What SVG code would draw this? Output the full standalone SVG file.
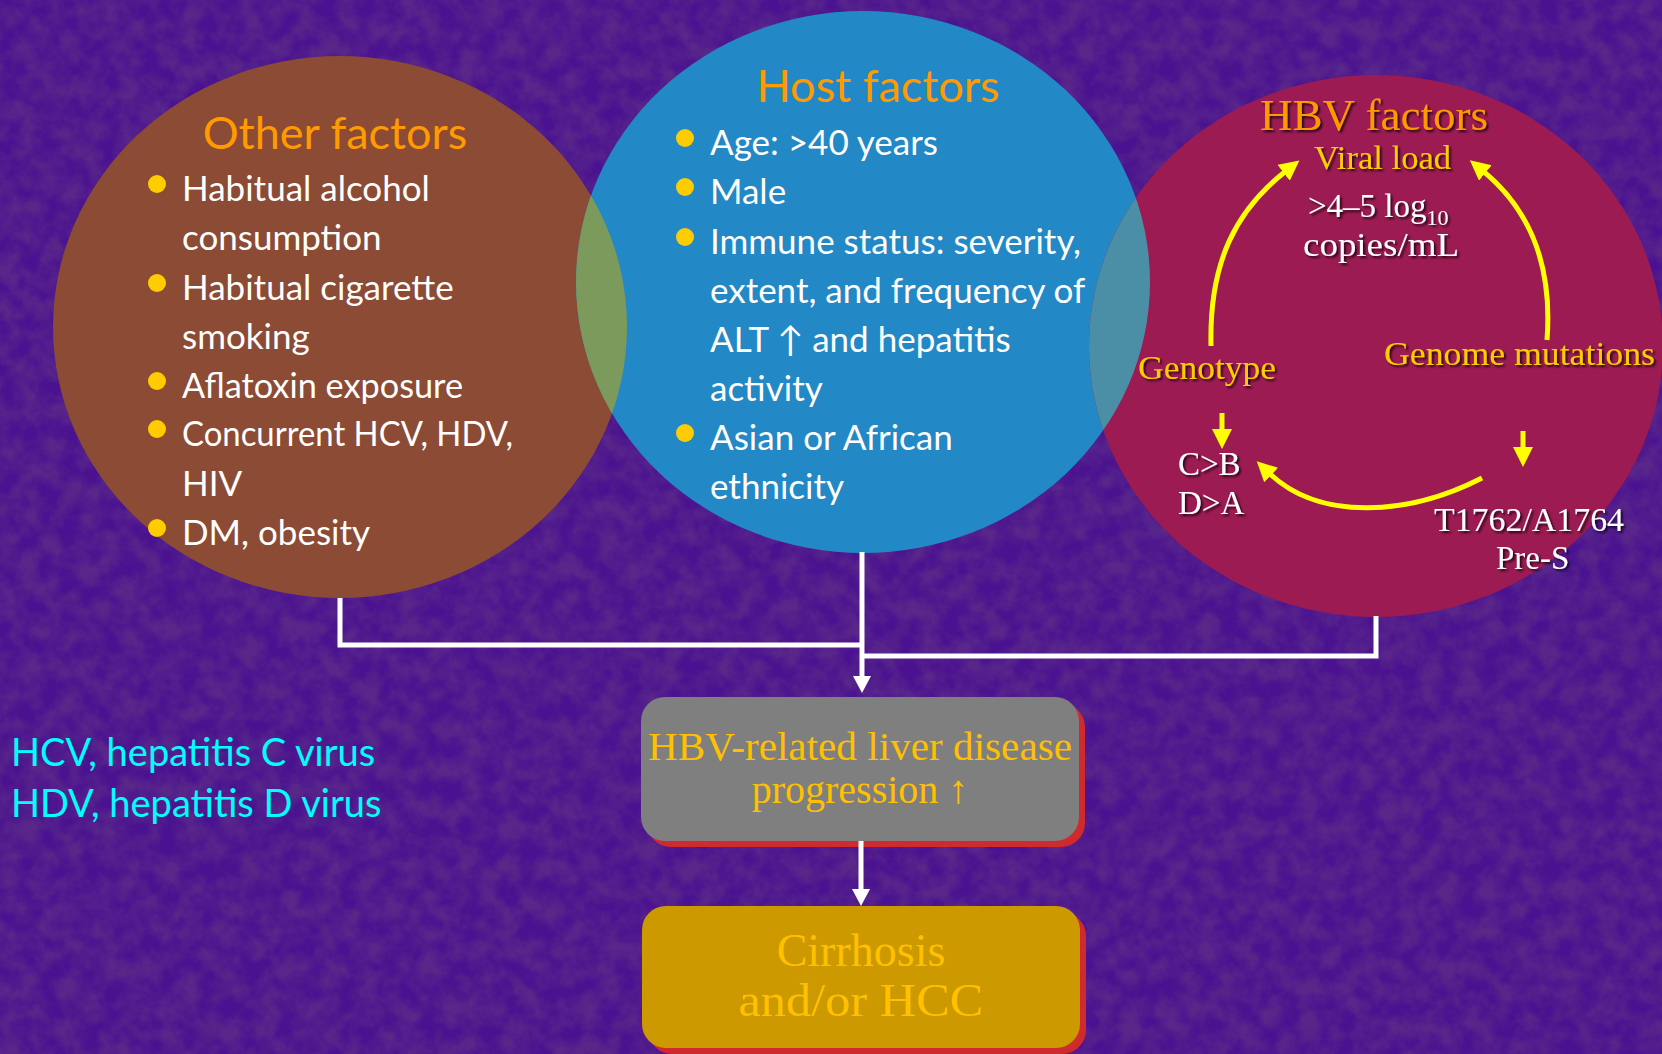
<svg xmlns="http://www.w3.org/2000/svg" width="1662" height="1054" viewBox="0 0 1662 1054">
<defs>
<style>
.sans{font-family:Lato,"Liberation Sans",sans-serif;}
.serif{font-family:"Liberation Serif","DejaVu Serif",serif;}
.title{font-size:45px;fill:#FF9A00;text-anchor:middle;}
.item{font-size:35px;fill:#FFFFFF;}
.dot{fill:#FFCC00;}
.legend{font-size:38px;fill:#00FFFF;}
.hbvt{fill:#FFCC00;font-size:33px;}
.hbvw{fill:#FFFFFF;font-size:33px;}
.conn{fill:none;stroke:#FFFFFF;stroke-width:5;}
.yarr{fill:none;stroke:#FFFF00;stroke-width:5;}
.boxtext{fill:#FFC000;text-anchor:middle;}
</style>
<filter id="tex" x="0" y="0" width="100%" height="100%">
<feTurbulence type="fractalNoise" baseFrequency="0.05" numOctaves="4" seed="7"/>
<feColorMatrix type="matrix" values="0 0 0 0 0.10  0 0 0 0 0.02  0 0 0 0 0.25  -2.2 0 0 0 1.55"/>
</filter>
<filter id="sh" x="-10%" y="-30%" width="130%" height="170%">
<feDropShadow dx="2" dy="2" stdDeviation="0.8" flood-color="#000000" flood-opacity="0.75"/>
</filter>
<clipPath id="clipHost"><ellipse cx="863" cy="282" rx="287" ry="271"/></clipPath>
<marker id="wa" markerUnits="userSpaceOnUse" markerWidth="20" markerHeight="20" refX="2" refY="9" orient="auto">
<path d="M0,0 L17,9 L0,18 z" fill="#FFFFFF"/>
</marker>
<marker id="ya" markerUnits="userSpaceOnUse" markerWidth="22" markerHeight="22" refX="3" refY="10" orient="auto">
<path d="M0,0 L20,10 L0,20 z" fill="#FFFF00"/>
</marker>
</defs>

<rect x="0" y="0" width="1662" height="1054" fill="#4A1290"/>
<rect x="0" y="0" width="1662" height="1054" filter="url(#tex)"/>

<g id="other-factors">
<ellipse cx="340" cy="327" rx="287" ry="271" fill="#8B4B35"/>
<text class="sans title" x="335" y="149">Other factors</text>
<circle class="dot" cx="157" cy="184" r="9"/>
<circle class="dot" cx="157" cy="283" r="9"/>
<circle class="dot" cx="157" cy="381" r="9"/>
<circle class="dot" cx="157" cy="429" r="9"/>
<circle class="dot" cx="157" cy="528" r="9"/>
<text class="sans item" x="182" y="201">Habitual alcohol</text>
<text class="sans item" x="182" y="250">consumption</text>
<text class="sans item" x="182" y="300">Habitual cigarette</text>
<text class="sans item" x="182" y="349">smoking</text>
<text class="sans item" x="182" y="398" textLength="281" lengthAdjust="spacingAndGlyphs">Aflatoxin exposure</text>
<text class="sans item" x="182" y="446" textLength="331" lengthAdjust="spacingAndGlyphs">Concurrent HCV, HDV,</text>
<text class="sans item" x="182" y="496">HIV</text>
<text class="sans item" x="182" y="545">DM, obesity</text>
</g>

<g id="host-factors">
<ellipse cx="863" cy="282" rx="287" ry="271" fill="#2288C6"/>
<ellipse cx="340" cy="327" rx="287" ry="271" fill="#7B9A5B" clip-path="url(#clipHost)"/>
<text class="sans title" x="878" y="102">Host factors</text>
<circle class="dot" cx="685" cy="138" r="9"/>
<circle class="dot" cx="685" cy="187" r="9"/>
<circle class="dot" cx="685" cy="237" r="9"/>
<circle class="dot" cx="685" cy="433" r="9"/>
<text class="sans item" x="710" y="155">Age: &gt;40 years</text>
<text class="sans item" x="710" y="204">Male</text>
<text class="sans item" x="710" y="254">Immune status: severity,</text>
<text class="sans item" x="710" y="303">extent, and frequency of</text>
<text class="sans item" x="710" y="352">ALT ↑ and hepatitis</text>
<text class="sans item" x="710" y="401">activity</text>
<text class="sans item" x="710" y="450">Asian or African</text>
<text class="sans item" x="710" y="499">ethnicity</text>
</g>

<g id="hbv-factors">
<ellipse cx="1376" cy="346" rx="287" ry="271" fill="#9B1B52"/>
<ellipse cx="1376" cy="346" rx="287" ry="271" fill="#4B8FA6" clip-path="url(#clipHost)"/>
<g filter="url(#sh)" class="serif">
<text x="1374" y="130" font-size="45" fill="#FF9900" text-anchor="middle">HBV factors</text>
<text class="hbvt" x="1314" y="169" textLength="137" lengthAdjust="spacingAndGlyphs">Viral load</text>
<text class="hbvw" x="1308" y="217">&gt;4–5 log<tspan font-size="22" dy="8">10</tspan></text>
<text class="hbvw" x="1303" y="256" textLength="156" lengthAdjust="spacingAndGlyphs">copies/mL</text>
<text class="hbvt" x="1138" y="379" textLength="138" lengthAdjust="spacingAndGlyphs">Genotype</text>
<text class="hbvt" x="1384" y="365" textLength="271" lengthAdjust="spacingAndGlyphs">Genome mutations</text>
<text class="hbvw" x="1178" y="475">C&gt;B</text>
<text class="hbvw" x="1178" y="514">D&gt;A</text>
<text class="hbvw" x="1434" y="531" textLength="190" lengthAdjust="spacingAndGlyphs">T1762/A1764</text>
<text class="hbvw" x="1496" y="569">Pre-S</text>
</g>
</g>

<g id="progression">
<rect x="647" y="703" width="438" height="144" rx="24" fill="#CF2A2E"/>
<rect x="641" y="697" width="438" height="144" rx="24" fill="#7F7F7F"/>
<text class="serif boxtext" x="860" y="760" font-size="40" textLength="424" lengthAdjust="spacingAndGlyphs">HBV-related liver disease</text>
<text class="serif boxtext" x="860" y="803" font-size="40">progression ↑</text>
</g>

<g id="outcome">
<rect x="648" y="912" width="438" height="142" rx="24" fill="#CF2A2E"/>
<rect x="642" y="906" width="438" height="142" rx="24" fill="#CC9900"/>
<text class="serif boxtext" x="861" y="966" font-size="46">Cirrhosis</text>
<text class="serif boxtext" x="861" y="1016" font-size="46" textLength="245" lengthAdjust="spacingAndGlyphs">and/or HCC</text>
</g>

<g id="legend" class="sans">
<text class="legend" x="11" y="766">HCV, hepatitis C virus</text>
<text class="legend" x="11" y="817">HDV, hepatitis D virus</text>
</g>

<g id="connectors">
<path class="conn" d="M340,598 V645 H862"/>
<path class="conn" d="M1376,616 V656 H862"/>
<path class="conn" d="M862,552 V678" marker-end="url(#wa)"/>
<path class="conn" d="M861,841 V891" marker-end="url(#wa)"/>
<path class="yarr" d="M1211,346 C1209,262 1236,210 1286,171" marker-end="url(#ya)"/>
<path class="yarr" d="M1547,340 C1553,262 1528,208 1483,171" marker-end="url(#ya)"/>
<path class="yarr" d="M1482,478 C1410,515 1320,522 1269,473" marker-end="url(#ya)"/>
<path class="yarr" d="M1222,413 V432" marker-end="url(#ya)"/>
<path class="yarr" d="M1523,431 V450" marker-end="url(#ya)"/>
</g>
</svg>
